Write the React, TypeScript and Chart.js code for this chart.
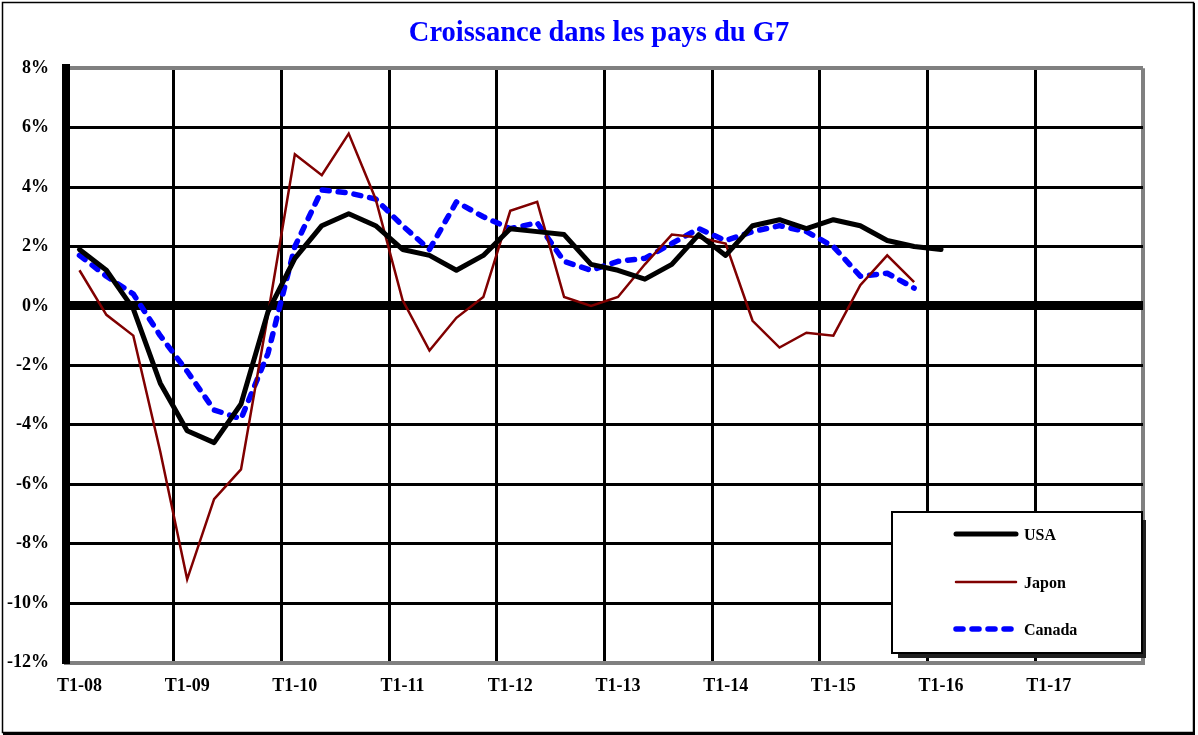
import React, { useEffect, useRef } from 'react';
import { Chart, registerables } from 'chart.js';

Chart.register(...registerables);

const FONT = "'Times New Roman', 'Liberation Serif', serif";

const years = ['08', '09', '10', '11', '12', '13', '14', '15', '16', '17'];
const quarters = ['T1', 'T2', 'T3', 'T4'];
const categories: string[] = [];
years.forEach((y) => quarters.forEach((q) => categories.push(`${q}-${y}`)));

const usa = [1.9, 1.2, -0.1, -2.6, -4.2, -4.6, -3.3, -0.2, 1.6, 2.7, 3.1, 2.7, 1.9, 1.7, 1.2, 1.7, 2.6, 2.5, 2.4, 1.4, 1.2, 0.9, 1.4, 2.4, 1.7, 2.7, 2.9, 2.6, 2.9, 2.7, 2.2, 2.0, 1.9];
const japon = [1.2, -0.3, -1.0, -4.9, -9.2, -6.5, -5.5, -0.3, 5.1, 4.4, 5.8, 3.6, 0.2, -1.5, -0.4, 0.3, 3.2, 3.5, 0.3, 0.0, 0.3, 1.4, 2.4, 2.3, 2.1, -0.5, -1.4, -0.9, -1.0, 0.7, 1.7, 0.8];
const canada = [1.7, 1.0, 0.4, -1.0, -2.2, -3.5, -3.8, -1.6, 2.0, 3.9, 3.8, 3.6, 2.7, 1.9, 3.5, 3.0, 2.6, 2.8, 1.5, 1.2, 1.5, 1.6, 2.1, 2.6, 2.2, 2.5, 2.7, 2.5, 2.0, 1.0, 1.1, 0.6];

const seriesNames = ['USA', 'Japon', 'Canada'];
const title = 'Croissance dans les pays du G7';

const framePlugin = {
  id: 'frame',
  beforeDraw(chart: any) {
    const { ctx, width, height } = chart;
    ctx.save();
    ctx.fillStyle = '#ffffff';
    ctx.fillRect(0, 0, width, height);
    ctx.restore();
  },
  afterDraw(chart: any) {
    const ctx = chart.ctx;
    ctx.save();
    ctx.strokeStyle = '#000';
    ctx.lineWidth = 1.5;
    ctx.strokeRect(2.5, 2.5, 1191, 730);
    ctx.lineWidth = 2;
    ctx.beginPath();
    ctx.moveTo(1194, 3);
    ctx.lineTo(1194, 734);
    ctx.lineTo(3, 734);
    ctx.stroke();
    ctx.restore();
  },
};

const legendPlugin = {
  id: 'boxLegend',
  afterDraw(chart: any) {
    const ctx = chart.ctx;
    const x0 = 892, y0 = 512, x1 = 1142, y1 = 653;
    ctx.save();
    ctx.fillStyle = '#222';
    ctx.fillRect(x1, y0 + 8, 4, y1 - y0 - 3);
    ctx.fillRect(x0 + 6, y1, x1 - x0 - 2, 5);
    ctx.fillStyle = '#fff';
    ctx.fillRect(x0, y0, x1 - x0, y1 - y0);
    ctx.strokeStyle = '#000';
    ctx.lineWidth = 2;
    ctx.strokeRect(x0, y0, x1 - x0, y1 - y0);
    const rows = [534, 582, 629];
    chart.data.datasets.forEach((ds: any, i: number) => {
      const y = rows[i];
      ctx.beginPath();
      ctx.strokeStyle = ds.borderColor;
      ctx.lineWidth = ds.borderWidth;
      ctx.setLineDash(ds.borderDash || []);
      ctx.lineCap = 'round';
      ctx.moveTo(956, y);
      ctx.lineTo(1016, y);
      ctx.stroke();
      ctx.setLineDash([]);
      ctx.fillStyle = '#000';
      ctx.font = `bold 16px ${FONT}`;
      ctx.textBaseline = 'middle';
      ctx.textAlign = 'left';
      ctx.fillText(ds.label, 1024, y + 2);
    });
    ctx.restore();
  },
};

export default function App() {
  const ref = useRef<HTMLCanvasElement | null>(null);

  useEffect(() => {
    if (!ref.current) return;
    const chart = new Chart(ref.current, {
      type: 'line',
      data: {
        labels: categories,
        datasets: [
          {
            label: seriesNames[0],
            data: usa,
            borderColor: '#000000',
            backgroundColor: '#000000',
            borderWidth: 5,
            pointRadius: 0,
            tension: 0,
            borderJoinStyle: 'round',
            borderCapStyle: 'round',
          },
          {
            label: seriesNames[1],
            data: japon,
            borderColor: '#800000',
            backgroundColor: '#800000',
            borderWidth: 2.5,
            pointRadius: 0,
            tension: 0,
            borderJoinStyle: 'miter',
          },
          {
            label: seriesNames[2],
            data: canada,
            borderColor: '#0000ff',
            backgroundColor: '#0000ff',
            borderWidth: 5.5,
            borderDash: [7, 9],
            borderCapStyle: 'round',
            borderJoinStyle: 'round',
            pointRadius: 0,
            tension: 0,
          },
        ],
      },
      options: {
        responsive: false,
        animation: false,
        layout: { padding: { left: 0, right: 0, top: 0, bottom: 22.5 } },
        plugins: {
          legend: { display: false },
          tooltip: { enabled: false },
          title: {
            display: true,
            text: title,
            color: '#0000ff',
            font: { family: FONT, size: 28.5, weight: 'bold' },
            padding: { top: 17, bottom: 17 },
          },
        },
        scales: {
          x: {
            type: 'category',
            offset: true,
            grid: {
              offset: true,
              drawTicks: false,
              color: (ctx: any) => {
                if (ctx.type !== 'tick') return '#808080';
                return ctx.index % 4 === 0 && ctx.index > 0 ? '#000000' : 'rgba(0,0,0,0)';
              },
              lineWidth: (ctx: any) => (ctx.type !== 'tick' ? 4 : 3),
            },
            border: { display: true, color: '#808080', width: 4 },
            ticks: {
              autoSkip: false,
              maxRotation: 0,
              minRotation: 0,
              padding: 13,
              color: '#000',
              font: { family: FONT, size: 18, weight: 'bold' },
              callback: (_v: any, idx: number) => (idx % 4 === 0 ? categories[idx] : ''),
            },
            afterFit: (s: any) => {
              s.height = 50;
            },
          },
          y: {
            min: -12,
            max: 8,
            grid: {
              drawTicks: false,
              color: (ctx: any) => {
                const v = ctx.tick ? ctx.tick.value : 0;
                return v === 8 || v === -12 ? '#808080' : '#000000';
              },
              lineWidth: (ctx: any) => {
                const v = ctx.tick ? ctx.tick.value : 1;
                if (v === 0) return 9;
                if (v === 8) return 4;
                return 3;
              },
            },
            border: { display: true, color: '#000', width: 8 },
            ticks: {
              stepSize: 2,
              padding: 17,
              color: '#000',
              font: { family: FONT, size: 18, weight: 'bold' },
              callback: (v: any) => `${v}%`,
            },
            afterFit: (s: any) => {
              s.width = 66;
            },
          },
          yRight: {
            type: 'linear',
            position: 'right',
            min: -12,
            max: 8,
            display: true,
            grid: { display: false, drawTicks: false },
            border: { display: false },
            ticks: { display: false },
            afterFit: (s: any) => {
              s.width = 55;
            },
          },
        },
      },
      plugins: [framePlugin, legendPlugin],
    } as any);
    return () => chart.destroy();
  }, []);

  return (
    <div style={{ position: 'absolute', left: 0, top: 0, width: 1198, height: 735 }}>
      <canvas ref={ref} width={1198} height={735} style={{ display: 'block' }} />
    </div>
  );
}
